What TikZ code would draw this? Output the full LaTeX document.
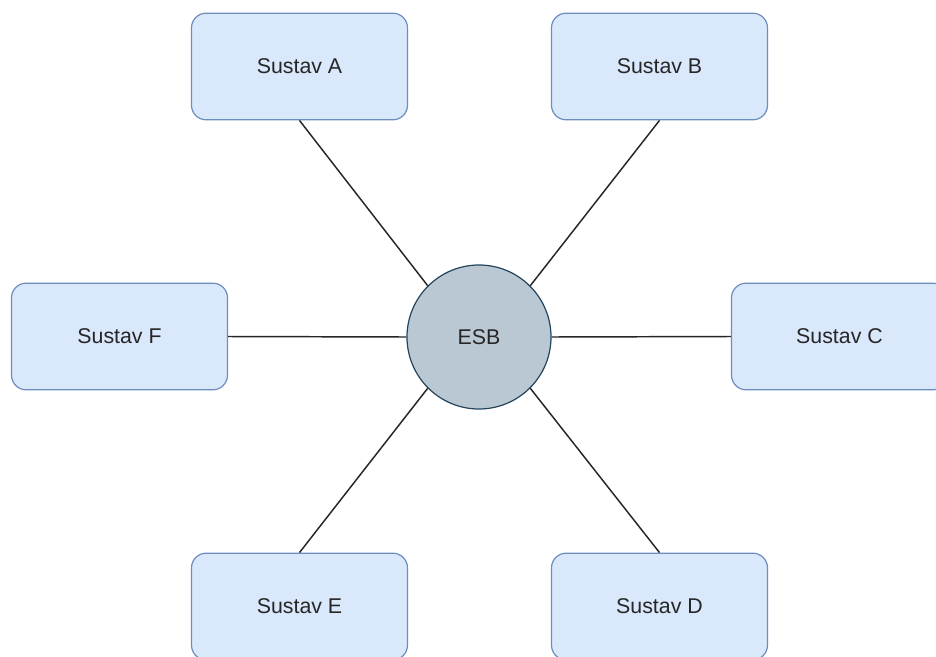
\documentclass[tikz,border=0pt]{standalone}
\usepackage{fontspec}
\setmainfont{Liberation Sans}
\usetikzlibrary{positioning}
\definecolor{boxfill}{HTML}{DAE8FC}
\definecolor{boxdraw}{HTML}{6C8EBF}
\definecolor{busfill}{HTML}{BAC8D3}
\definecolor{busdraw}{HTML}{23445D}
\begin{document}
\begin{tikzpicture}[
        x=0.75pt, y=-0.75pt,
        sustav/.style={rectangle, draw=boxdraw, fill=boxfill, rounded corners=11pt, line width=0.9pt, minimum width=162pt, minimum height=80pt, align=center, font=\fontsize{16}{19}\selectfont, text=black!85},
        bus/.style={circle, draw=busdraw, fill=busfill, line width=0.9pt, minimum size=108pt, inner sep=0pt, font=\fontsize{16}{19}\selectfont, text=black!85},
        link/.style={line width=1.1pt, black!85}
    ]
        \clip (0,0) rectangle (936,657);
        \fill[white] (0,0) rectangle (936,657);

        % Bus in the middle
        \node[bus] (esb) at (479,337) {ESB};

        % Top row
        \node[sustav] (sA) at (299.5,66.5) {Sustav A};
        \node[sustav] (sB) at (659.5,66.5) {Sustav B};

        % Middle row
        \node[sustav] (sF) at (119.5,336.5) {Sustav F};
        \node[sustav] (sC) at (839.5,336.5) {Sustav C};

        % Bottom row
        \node[sustav] (sE) at (299.5,606.5) {Sustav E};
        \node[sustav] (sD) at (659.5,606.5) {Sustav D};

        \draw[link] (esb.135) -- (sA.south);
        \draw[link] (esb.45) -- (sB.south);
        \draw[link] (esb.east) -- (sC.west);
        \draw[link] (esb.315) -- (sD.north);
        \draw[link] (esb.225) -- (sE.north);
        \draw[link] (esb.west) -- (sF.east);
    \end{tikzpicture}
\end{document}
